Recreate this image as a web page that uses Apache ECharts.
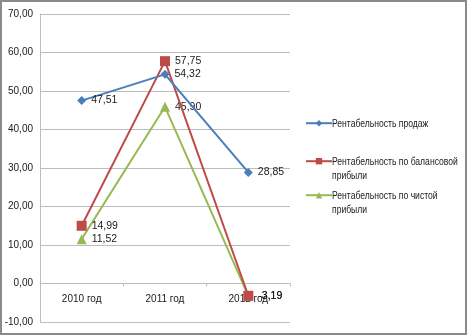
<!DOCTYPE html>
<html>
<head>
<meta charset="utf-8">
<script src="https://cdn.jsdelivr.net/npm/echarts@6/dist/echarts.min.js"></script>
<style>
  html, body { margin: 0; padding: 0; background: #fff; }
  #chart { width: 467px; height: 335px; box-sizing: border-box; border: 2px solid #8a8a8a; }
</style>
</head>
<body>
<div id="chart"></div>
<script>
// Years on the category axis
const years = ['2010 год', '2011 год', '2012 год'];

// Profitability indicators, %
const salesMargin = [47.51, 54.32, 28.85];
const balanceProfitMargin = [14.99, 57.75, -3.19];
const netProfitMargin = [11.52, 45.90, -3.19];

const seriesNames = [
  'Рентабельность продаж',
  'Рентабельность по балансовой прибыли',
  'Рентабельность по чистой прибыли'
];
// Legend captions, wrapped the way they are shown beside the icons
const legendLines = [
  ['Рентабельность продаж'],
  ['Рентабельность по балансовой', 'прибыли'],
  ['Рентабельность по чистой', 'прибыли']
];

const FONT = '"Liberation Sans", Arial, sans-serif';
const fmt = v => v.toFixed(2).replace('.', ',');

const colors = ['#4A7EBB', '#BE4B48', '#98B954'];
const symbols = ['diamond', 'rect', 'triangle'];
const symbolSizes = [9, 10, 10];
const dataSets = [salesMargin, balanceProfitMargin, netProfitMargin];

// vertical centre of each legend entry's first row (canvas coordinates)
const legendRowY = [122, 160, 194];
const LEGEND_ICON_X = 303;
const LEGEND_TEXT_X = 330;
const LINE_H = 14;

const chart = echarts.init(document.getElementById('chart'), null, { renderer: 'canvas' });

const legends = seriesNames.map((name, i) => ({
  orient: 'vertical',
  left: LEGEND_ICON_X,
  top: legendRowY[i] - 4,
  padding: 0,
  data: [name],
  itemWidth: 26,
  itemHeight: 8,
  selectedMode: false,
  formatter: () => '',
  textStyle: { fontSize: 8, lineHeight: 8 }
}));

// narrow captions next to the legend icons
const captions = [];
legendLines.forEach((lines, i) => {
  lines.forEach((t, k) => {
    captions.push({
      type: 'text',
      x: LEGEND_TEXT_X,
      y: legendRowY[i] + k * LINE_H,
      scaleX: 0.78,
      style: {
        text: t,
        font: '11px ' + FONT,
        fill: '#1a1a1a',
        verticalAlign: 'middle',
        align: 'left'
      }
    });
  });
});

chart.setOption({
  animation: false,
  color: colors,
  textStyle: { fontFamily: FONT },
  grid: { left: 38, right: 175, top: 12, bottom: 11, containLabel: false, outerBoundsMode: 'none' },
  legend: legends,
  graphic: captions,
  xAxis: {
    type: 'category',
    data: years,
    boundaryGap: true,
    axisLine: { onZero: true, lineStyle: { color: '#bdbdbd', width: 1 } },
    axisTick: { show: true, length: 3, lineStyle: { color: '#bdbdbd' } },
    axisLabel: { color: '#1a1a1a', fontFamily: FONT, fontSize: 10, margin: -28 }
  },
  yAxis: {
    type: 'value',
    min: -10,
    max: 70,
    interval: 10,
    axisLine: { show: true, lineStyle: { color: '#bdbdbd', width: 1 } },
    axisTick: { show: false },
    splitLine: { lineStyle: { color: '#bdbdbd', width: 1 } },
    axisLabel: { color: '#1a1a1a', fontFamily: FONT, fontSize: 10, margin: 7, formatter: fmt }
  },
  series: dataSets.map((d, i) => ({
    name: seriesNames[i],
    type: 'line',
    data: d,
    symbol: symbols[i],
    symbolSize: symbolSizes[i],
    lineStyle: { width: 2, color: colors[i] },
    itemStyle: { color: colors[i] },
    label: {
      show: true,
      position: 'right',
      distance: 5,
      fontFamily: FONT,
      fontSize: 10.5,
      color: '#1a1a1a',
      formatter: p => fmt(p.value)
    },
    z: 5 - i
  }))
});
</script>
</body>
</html>
